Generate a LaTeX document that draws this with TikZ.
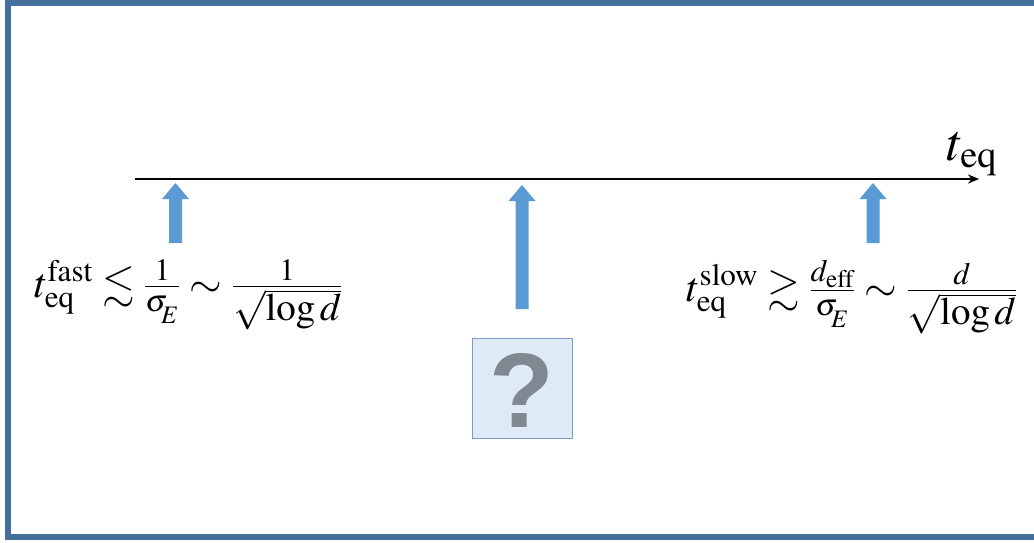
\documentclass[tikz,border=0pt]{standalone}
\usepackage{amsmath,amssymb}
\usepackage{mathptmx}
\usepackage[no-math]{fontspec}
\usetikzlibrary{arrows.meta}
\newfontfamily\qfont{Liberation Sans}
\definecolor{frameblue}{RGB}{69,112,156}
\definecolor{arrowblue}{RGB}{91,155,213}
\definecolor{boxfill}{RGB}{222,234,246}
\definecolor{boxline}{RGB}{124,156,196}
\definecolor{qgray}{RGB}{128,136,146}
\newcommand{\blockarrow}[3]{% center x, top y, bottom y
  \fill[arrowblue] (#1-6.5,#3) -- (#1-6.5,#2+16) -- (#1-13.5,#2+16) -- (#1,#2)
    -- (#1+13.5,#2+16) -- (#1+6.5,#2+16) -- (#1+6.5,#3) -- cycle;}
\newcommand{\sqlog}{\mbox{\fontsize{39}{42}\selectfont$\sqrt{\log d}$}}
\begin{document}
\begin{tikzpicture}[x=1pt,y=-1pt,
  formula/.style={inner sep=0pt, font=\fontsize{42}{50}\selectfont},
  axis/.style={line width=2.4pt, -{Stealth[length=11pt,width=9pt]}}]
\useasboundingbox (0,0) rectangle (1034,542);
\fill[white] (0,0) rectangle (1034,542);
\begin{scope}
\clip (0,0) rectangle (1034,542);
\draw[frameblue, line width=6pt] (8,2.5) rectangle (1060,537);
\end{scope}
% axis
\coordinate (a0) at (135,179);
\coordinate (a1) at (979,179);
\draw[axis] (a0) -- (a1);
\node[inner sep=0pt, font=\fontsize{52}{60}\selectfont, anchor=base west] (teq) at (947,160) {$t_{\mathrm{eq}}$};
% arrows
\blockarrow{175.5}{183}{243}
\blockarrow{522}{185}{309}
\blockarrow{873}{183}{243}
% question box
\node[draw=boxline, fill=boxfill, line width=0.8pt, minimum width=100pt, minimum height=100pt, inner sep=0pt] (qbox) at (522,388) {};
\node[text=qgray, font=\qfont\bfseries\fontsize{106}{110}\selectfont, inner sep=0pt] (qmark) at (522,390) {?};
% formulas
\node[formula, anchor=base west] (fast) at (34,297)
  {$t_{\mathrm{eq}}^{\mathrm{fast}} \lesssim \tfrac{1}{\sigma_{\!{}_E}} \sim \frac{1}{\sqlog}$};
\node[formula, anchor=base west] (slow) at (686,301)
  {$t_{\mathrm{eq}}^{\mathrm{slow}} \gtrsim \tfrac{d_{\mathrm{eff}}}{\sigma_{\!{}_E}} \sim \frac{d}{\sqlog}$};
\end{tikzpicture}
\end{document}
